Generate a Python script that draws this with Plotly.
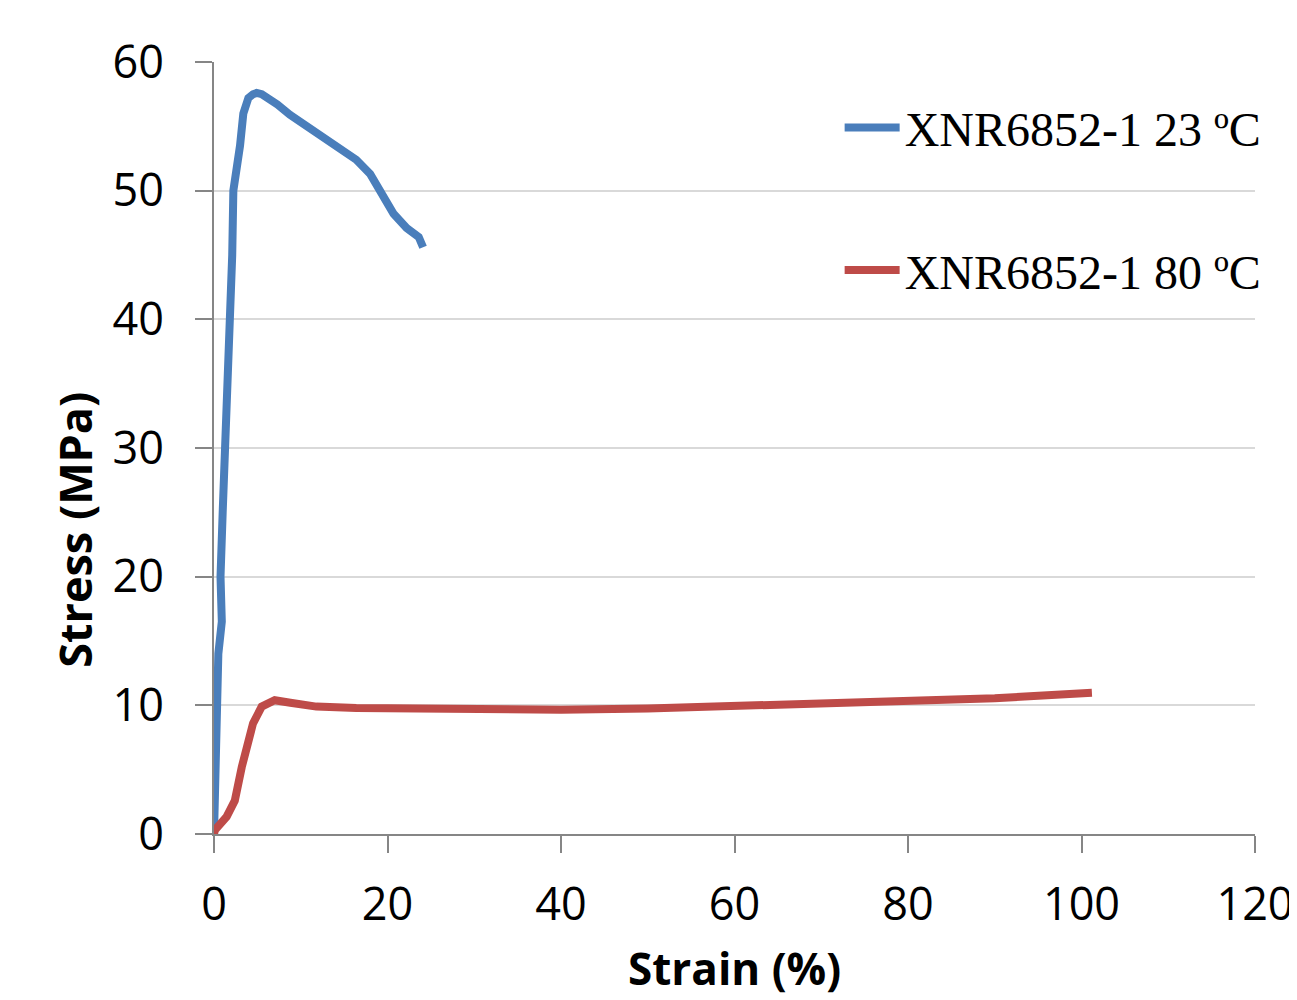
import plotly.graph_objects as go

strain_23 = [0, 0.1, 0.3, 0.5, 0.9, 0.75, 1.0, 1.3, 1.55, 1.84, 2.1, 2.23, 2.6, 3.0, 3.38, 3.96, 4.5, 4.92, 5.5, 6.07, 7.3, 8.76, 10.7, 12.6, 14.5, 16.4, 18.0, 19.5, 20.7, 22.2, 23.6, 24.1]
stress_23 = [0, 5, 10, 14, 16.5, 20, 25, 30, 35, 39.9, 45, 50.0, 51.6, 53.5, 56.0, 57.2, 57.5, 57.6, 57.5, 57.3, 56.7, 55.9, 55.0, 54.3, 53.4, 52.4, 51.3, 49.5, 48.2, 47.1, 46.4, 45.6]

strain_80 = [0, 0.1, 1.46, 2.4, 3.2, 3.8, 4.5, 5.5, 7.0, 8.8, 11.8, 16.4, 25, 40, 50, 60, 73.3, 80, 90, 101.2]
stress_80 = [0, 0.3, 1.35, 2.6, 5.2, 7.0, 8.6, 9.9, 10.4, 10.2, 9.9, 9.8, 9.75, 9.65, 9.75, 9.95, 10.2, 10.25, 10.55, 10.97]

names = ["XNR6852-1 23 ºC", "XNR6852-1 80 ºC"]
colors = ["#4a7ebb", "#be4b48"]

x_ticks = [0, 20, 40, 60, 80, 100, 120]
y_ticks = [0, 10, 20, 30, 40, 50, 60]

fig = go.Figure()
fig.add_trace(go.Scatter(x=strain_23, y=stress_23, mode="lines", name=names[0],
                         line=dict(color=colors[0], width=8), legendgroup="a"))
fig.add_trace(go.Scatter(x=strain_80, y=stress_80, mode="lines", name=names[1],
                         line=dict(color=colors[1], width=8), legendgroup="b"))

axis_common = dict(showline=True, linecolor="#868686", linewidth=2, ticks="outside",
                   ticklen=17, tickwidth=2, tickcolor="#868686", automargin=False,
                   tickfont=dict(family="Open Sans", size=45, color="#000000"), zeroline=False)

fig.update_xaxes(range=[0, 120], tickvals=x_ticks, showgrid=False, ticklabelstandoff=13,
                 **axis_common)
fig.update_yaxes(range=[0, 60], tickvals=y_ticks, showgrid=True, gridcolor="#d9d9d9", gridwidth=2,
                 ticklabelstandoff=22, **axis_common)

fig.update_layout(
    width=1289, height=992,
    margin=dict(l=206, r=42, t=54, b=166),
    plot_bgcolor="white", paper_bgcolor="white",
    showlegend=True,
    legend=dict(x=0.601, y=0.964, xanchor="left", yanchor="top", bgcolor="rgba(0,0,0,0)",
                font=dict(family="Liberation Serif", size=48, color="#000000"),
                tracegroupgap=77, itemwidth=55),
    annotations=[
        dict(text="<b>Strain (%)</b>", xref="paper", yref="paper", x=0.5, y=-0.173,
             xanchor="center", yanchor="middle", showarrow=False,
             font=dict(family="Open Sans", size=44, color="#000000")),
        dict(text="<b>Stress (MPa)</b>", xref="paper", yref="paper", x=-0.1335, y=0.394,
             xanchor="center", yanchor="middle", showarrow=False, textangle=-90,
             font=dict(family="Open Sans", size=45, color="#000000")),
    ],
)

fig.write_html("out.html")
